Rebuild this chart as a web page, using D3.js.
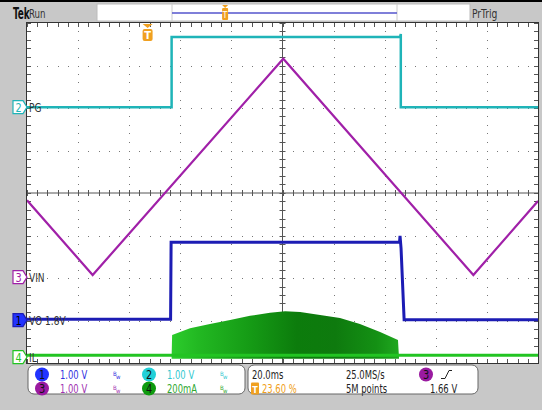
<!DOCTYPE html>
<html><head><meta charset="utf-8">
<script src="https://cdn.jsdelivr.net/npm/d3@7/dist/d3.min.js"></script>
<style>
html,body{margin:0;padding:0;background:#c8c8c8;}
svg{display:block;}
text{font-family:"DejaVu Sans Condensed","Liberation Sans",sans-serif;}
</style></head>
<body>
<svg id="chart" width="542" height="410"></svg>
<script>
// ---- data (time in ms, values in screen divisions) ----
const vinT = [-100, -74.3, 0.3, 74.7, 100];
const vinV = [-0.17, -1.93, 3.16, -1.93, -0.19];
const pgT = [-100, -43.4, -43.4, 46.0, 46.3, 46.3, 100];
const pgV = [2.02, 2.02, 3.67, 3.67, 3.74, 2.02, 2.02];
const voT = [-100, -43.8, -43.6, 45.8, 46.0, 46.4, 47.6, 100];
const voV = [-2.97, -2.97, -1.16, -1.16, -1.01, -1.3, -2.98, -2.98];
const ilBaseT = [-100, 100];
const ilBaseV = [-3.82, -3.82];
const ilT = [-43.4, -43.2, -36.2, -28.4, -20.5, -12.7, -4.9, 1.0, 6.9, 14.7, 22.5, 30.3, 38.2, 45.2, 45.6];
const ilTop = [-3.85, -3.34, -3.18, -3.08, -2.99, -2.89, -2.82, -2.78, -2.80, -2.87, -2.94, -3.08, -3.27, -3.46, -3.88];
const ilBottom = -3.9;
const refLevels = [-2.99, 2.02, -1.98, -3.86];      // channel 1..4 ground markers
const chLabels = ["VO 1.8V", "PG", "VIN", "IL"];
const chNames = ["1", "2", "3", "4"];
const chScale = ["1.00 V", "1.00 V", "1.00 V", "200mA"];
const timeDiv = "20.0ms", sampleRate = "25.0MS/s", recordLen = "5M points";
const trigPct = 23.60, trigLevel = "1.66 V";

const colors = {1:"#1c1cb4", 2:"#1fb4b8", 3:"#a020a8", 4:"#22c422"};
const badge = {1:"#2233ff", 2:"#22d0d8", 3:"#9a1aa0", 4:"#0e9a0e"};
const txtCol = {1:"#3030e0", 2:"#30c8d0", 3:"#a030b0", 4:"#30a830"};
const orange = "#f0a020";

const svg = d3.select("#chart");
const L = 27, R = 538, T = 23, B = 363;
const x = d3.scaleLinear().domain([-100, 100]).range([L, R]);
const y = d3.scaleLinear().domain([-4, 4]).range([B, T]);

function txt(par, tx, ty, s, size, fill, sx, anchor, weight) {
  return par.append("text").attr("transform", `translate(${tx},${ty}) scale(${sx||0.8},1)`)
    .attr("font-size", size).attr("fill", fill).attr("text-anchor", anchor || "start")
    .attr("font-weight", weight || "normal").text(s);
}

// top black line
svg.append("rect").attr("x",0).attr("y",0).attr("width",542).attr("height",2).attr("fill","#000");

// plot area
svg.append("rect").attr("x",L).attr("y",T).attr("width",R-L).attr("height",B-T).attr("fill","#fff");

// grid dots
const g = svg.append("g");
const majX = d3.range(-100, 100.1, 20), majY = d3.range(-4, 4.01, 1);
const minX = d3.range(-100, 100.1, 4), minY = d3.range(-4, 4.01, 0.2);
majX.forEach(t => { if (t===-100||t===100||t===0) return;
  minY.forEach(v => g.append("rect").attr("x",Math.round(x(t))).attr("y",Math.round(y(v))).attr("width",1).attr("height",1).attr("fill","#777")); });
majY.forEach(v => { if (v===-4||v===4||v===0) return;
  minX.forEach(t => g.append("rect").attr("x",Math.round(x(t))).attr("y",Math.round(y(v))).attr("width",1).attr("height",1).attr("fill","#777")); });
// center lines
g.append("line").attr("x1",x(0)).attr("x2",x(0)).attr("y1",T).attr("y2",B).attr("stroke","#555").attr("stroke-width",1);
g.append("line").attr("x1",L).attr("x2",R).attr("y1",y(0)).attr("y2",y(0)).attr("stroke","#555").attr("stroke-width",1);
minY.forEach(v => g.append("line").attr("x1",x(0)-3).attr("x2",x(0)+3).attr("y1",Math.round(y(v))+0.5).attr("y2",Math.round(y(v))+0.5).attr("stroke","#555"));
minX.forEach(t => g.append("line").attr("y1",y(0)-3).attr("y2",y(0)+3).attr("x1",Math.round(x(t))+0.5).attr("x2",Math.round(x(t))+0.5).attr("stroke","#555"));
// border ticks
minX.forEach(t => {
  g.append("line").attr("x1",Math.round(x(t))+0.5).attr("x2",Math.round(x(t))+0.5).attr("y1",T).attr("y2",T+4).attr("stroke","#555");
  g.append("line").attr("x1",Math.round(x(t))+0.5).attr("x2",Math.round(x(t))+0.5).attr("y1",B-4).attr("y2",B).attr("stroke","#555");
});
minY.forEach(v => {
  g.append("line").attr("y1",Math.round(y(v))+0.5).attr("y2",Math.round(y(v))+0.5).attr("x1",L).attr("x2",L+4).attr("stroke","#555");
  g.append("line").attr("y1",Math.round(y(v))+0.5).attr("y2",Math.round(y(v))+0.5).attr("x1",R-4).attr("x2",R).attr("stroke","#555");
});
svg.append("rect").attr("x",L-0.5).attr("y",T-0.5).attr("width",R-L+1).attr("height",B-T+1).attr("fill","none").attr("stroke","#333");

const line = (ts, vs) => d3.line().x((d,i)=>x(ts[i])).y((d,i)=>y(vs[i]))(ts);
svg.append("clipPath").attr("id","pc").append("rect").attr("x",L).attr("y",T).attr("width",R-L).attr("height",B-T);
const w = svg.append("g").attr("clip-path","url(#pc)");

// IL area with gradient
const grad = svg.append("defs").append("linearGradient").attr("id","ilg")
  .attr("gradientUnits","userSpaceOnUse").attr("x1",x(ilT[0])).attr("x2",x(ilT[ilT.length-1])).attr("y1",0).attr("y2",0);
[[0,"#2ccc2c"],[0.12,"#22b822"],[0.35,"#159a15"],[0.55,"#0c7c0c"],[0.72,"#0e7a0e"],[0.9,"#149014"],[1,"#20a820"]]
  .forEach(s => grad.append("stop").attr("offset",s[0]).attr("stop-color",s[1]));
const area = d3.area().x((d,i)=>x(ilT[i])).y0(y(ilBottom)).y1((d,i)=>y(ilTop[i]));
w.append("path").attr("d",area(ilT)).attr("fill","url(#ilg)");
w.append("path").attr("d",line(ilBaseT, ilBaseV)).attr("stroke",colors[4]).attr("stroke-width",3).attr("fill","none");

// PG
w.append("path").attr("d",line(pgT,pgV)).attr("stroke",colors[2]).attr("stroke-width",2.5).attr("fill","none");
// VO
w.append("path").attr("d",line(voT,voV)).attr("stroke",colors[1]).attr("stroke-width",3).attr("fill","none");
// VIN
w.append("path").attr("d",line(vinT,vinV)).attr("stroke",colors[3]).attr("stroke-width",2.2).attr("fill","none");

// left channel tags
refLevels.forEach((lv, i) => {
  const ch = i+1, cy = y(lv);
  const filled = ch === 1;
  svg.append("path").attr("d",`M13,${cy-6.5}H23L27,${cy}L23,${cy+6.5}H13Z`)
    .attr("fill", filled ? badge[1] : "#fff").attr("stroke", colors[ch]).attr("stroke-width",1.2);
  txt(svg, 18.5, cy+4.5, chNames[i], 12, filled ? "#000" : colors[ch], 0.9, "middle");
  txt(svg, 29, cy+4.5, chLabels[i], 12, "#333", 0.84);
});

// top bar
txt(svg, 13, 19, "Tek", 16, "#111", 0.62, "start", "bold");
txt(svg, 29, 18, "Run", 12, "#333", 0.8);
svg.append("rect").attr("x",97).attr("y",4).attr("width",373).attr("height",17).attr("fill","#fff").attr("stroke","#bbb");
const rb0 = 172, rb1 = 397;
svg.append("line").attr("x1",rb0).attr("x2",rb0).attr("y1",4).attr("y2",21).attr("stroke","#ccc");
svg.append("line").attr("x1",rb1).attr("x2",rb1).attr("y1",4).attr("y2",21).attr("stroke","#ccc");
svg.append("line").attr("x1",rb0).attr("x2",rb1).attr("y1",13).attr("y2",13).attr("stroke","#5555cc").attr("stroke-width",1.5);
const tmTop = rb0 + (rb1-rb0)*trigPct/100;
svg.append("path").attr("d",`M${tmTop-3},5H${tmTop+3}L${tmTop},8Z`).attr("fill",orange);
svg.append("rect").attr("x",tmTop-3).attr("y",8).attr("width",6).attr("height",12).attr("rx",1).attr("fill",orange);
svg.append("text").attr("x",tmTop).attr("y",18).attr("text-anchor","middle").attr("font-size",9).attr("fill","#fff").text("T");
txt(svg, 472, 18, "PrTrig", 12, "#333", 0.85);

// trigger marker in plot
const tx = L + (R-L)*trigPct/100;
svg.append("path").attr("d",`M${tx-5},${T+1}H${tx+5}L${tx},${T+5}Z`).attr("fill",orange);
svg.append("rect").attr("x",tx-5).attr("y",T+6).attr("width",10).attr("height",12).attr("rx",2).attr("fill",orange);
svg.append("text").attr("x",tx).attr("y",T+16).attr("text-anchor","middle").attr("font-size",11).attr("font-weight","bold").attr("fill","#fff").text("T");

// status panel
const p = svg.append("g");
p.append("rect").attr("x",28).attr("y",365).attr("width",217).attr("height",29).attr("rx",6).attr("fill","#fff").attr("stroke","#666");
p.append("rect").attr("x",248).attr("y",365).attr("width",230).attr("height",29).attr("rx",6).attr("fill","#fff").attr("stroke","#666");
const rows = [374.5, 388.5];
const slots = [[0,42,0],[1,149,0],[2,42,1],[3,149,1]];
slots.forEach(([i,cx,r]) => {
  const ch = i+1, cy = rows[r];
  p.append("circle").attr("cx",cx).attr("cy",cy).attr("r",7).attr("fill",badge[ch]);
  txt(p, cx, cy+4.5, chNames[i], 12, "#111", 0.9, "middle");
  txt(p, cx+18, cy+4.5, chScale[i], 12, txtCol[ch], 0.78);
  p.append("text").attr("x",cx+71).attr("y",cy+1).attr("font-size",6).attr("fill",txtCol[ch]).text("B");
  p.append("text").attr("x",cx+74).attr("y",cy+4).attr("font-size",6).attr("fill",txtCol[ch]).text("w");
});
txt(p, 252, rows[0]+4.5, timeDiv, 12, "#222", 0.78);
txt(p, 346, rows[0]+4.5, sampleRate, 12, "#222", 0.78);
p.append("circle").attr("cx",426).attr("cy",rows[0]).attr("r",7).attr("fill",badge[3]);
txt(p, 426, rows[0]+4.5, "3", 12, "#111", 0.9, "middle");
p.append("path").attr("d",`M441,${rows[0]+4}L445,${rows[0]+4}L449,${rows[0]-4}L452,${rows[0]-4}`).attr("stroke","#222").attr("fill","none");
p.append("rect").attr("x",251).attr("y",rows[1]-6).attr("width",8).attr("height",12).attr("rx",1).attr("fill",orange);
p.append("text").attr("x",255).attr("y",rows[1]+4).attr("text-anchor","middle").attr("font-size",9).attr("font-weight","bold").attr("fill","#fff").text("T");
txt(p, 262, rows[1]+4.5, trigPct.toFixed(2)+" %", 12, orange, 0.78);
txt(p, 346, rows[1]+4.5, recordLen, 12, "#222", 0.78);
txt(p, 430, rows[1]+4.5, trigLevel, 12, "#222", 0.78);
</script>
</body></html>
